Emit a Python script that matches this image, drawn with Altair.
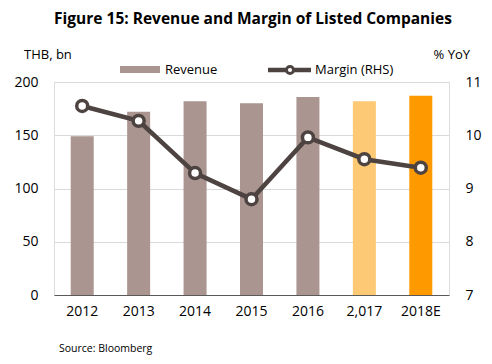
import altair as alt
import pandas as pd

years = ["2012", "2013", "2014", "2015", "2016", "2,017", "2018E"]
revenue = [149, 172, 182, 180, 186, 182, 187]
margin = [10.55, 10.27, 9.29, 8.80, 9.96, 9.55, 9.39]
bar_colors = ["#AA9591", "#AA9591", "#AA9591", "#AA9591", "#AA9591", "#FDC974", "#FF9900"]
left_ticks = [0, 50, 100, 150, 200]
right_ticks = [7, 8, 9, 10, 11]

FONT = "Open Sans"
LINE = "#4D4340"

df = pd.DataFrame({"Year": years, "Revenue": revenue, "Margin": margin})

xenc = alt.X("Year:N", sort=years, title=None,
             scale=alt.Scale(paddingInner=0, paddingOuter=0),
             axis=alt.Axis(labelAngle=0, ticks=False, domainColor="#595959",
                           domainWidth=1, labelPadding=9, labelFontSize=14,
                           labelColor="#000000", labelFont=FONT, grid=False))

bars = alt.Chart(df).mark_bar(size=23).encode(
    x=xenc,
    y=alt.Y("Revenue:Q", title=None,
            scale=alt.Scale(domain=[0, 200], nice=False),
            axis=alt.Axis(values=left_ticks, domain=False, ticks=False,
                          labelPadding=16, labelFontSize=14, labelColor="#000000",
                          labelFont=FONT, grid=True, gridColor="#D9D9D9")),
    color=alt.Color("Year:N", sort=years,
                    scale=alt.Scale(domain=years, range=bar_colors), legend=None),
)

yright = alt.Y("Margin:Q", title=None,
               scale=alt.Scale(domain=[7, 11], nice=False),
               axis=alt.Axis(orient="right", values=right_ticks, domain=False, ticks=False,
                             labelPadding=16, labelFontSize=14, labelColor="#000000",
                             labelFont=FONT, grid=False))

line = alt.Chart(df).mark_line(color=LINE, strokeWidth=4.5).encode(
    x=alt.X("Year:N", sort=years), y=yright)

pts = alt.Chart(df).mark_point(filled=True, fill="white", stroke=LINE,
                               strokeWidth=3.5, size=120, opacity=1).encode(
    x=alt.X("Year:N", sort=years), y=yright)

margin_layer = alt.layer(line, pts)

def txt(s, x, y, size=14, align="left", weight="normal", color="#000000"):
    return alt.Chart(pd.DataFrame({"t": [s]})).mark_text(
        align=align, baseline="middle", fontSize=size, font=FONT,
        fontWeight=weight, color=color).encode(
        text="t:N", x=alt.value(x), y=alt.value(y))

title = txt("Figure 15: Revenue and Margin of Listed Companies", 199, -63,
            size=15.5, align="center", weight="bold")
ylab_l = txt("THB, bn", -30, -27, size=13)
ylab_r = txt("% YoY", 416, -27, size=13, align="right")
leg_rect = alt.Chart(pd.DataFrame({"a": [0]})).mark_rect(color="#AA9591").encode(
    x=alt.value(66), x2=alt.value(106), y=alt.value(-16), y2=alt.value(-9))
leg_t1 = txt("Revenue", 111, -12, size=13)
leg_line = alt.Chart(pd.DataFrame({"a": [0]})).mark_rule(color=LINE, strokeWidth=4.5).encode(
    x=alt.value(214), x2=alt.value(257), y=alt.value(-12))
leg_pt = alt.Chart(pd.DataFrame({"a": [0]})).mark_point(
    filled=True, fill="white", stroke=LINE, strokeWidth=3, size=50, opacity=1).encode(
    x=alt.value(236), y=alt.value(-12))
leg_t2 = txt("Margin (RHS)", 261, -12, size=13)
source = txt("Source: Bloomberg", 5, 267, size=10.5)

main = alt.layer(bars, margin_layer).resolve_scale(y="independent", color="independent")

chart = alt.layer(main, title, ylab_l, ylab_r, leg_rect, leg_t1, leg_line, leg_pt,
                  leg_t2, source).properties(
    width=395, height=213,
    autosize=alt.AutoSizeParams(type="none"),
    padding={"left": 46, "top": 74, "right": 35, "bottom": 61},
).configure_view(stroke=None).configure(background="white")

chart.save("out.html", embed_options={"renderer": "svg", "actions": False})
